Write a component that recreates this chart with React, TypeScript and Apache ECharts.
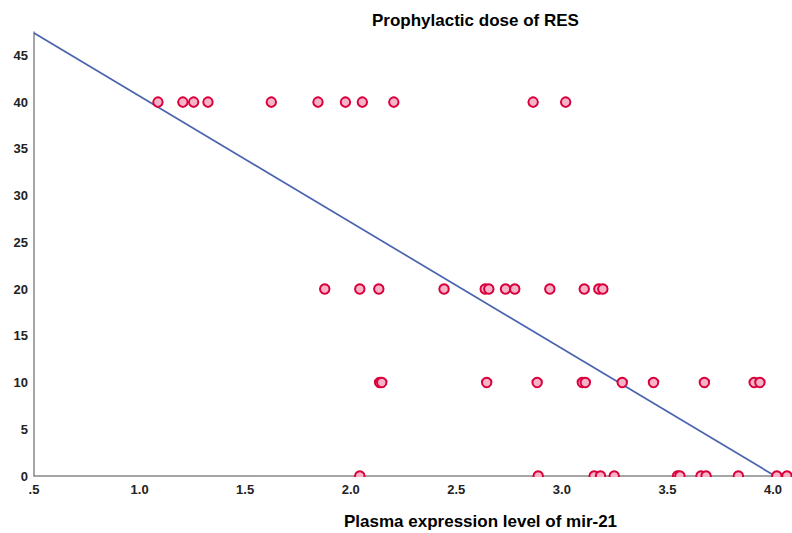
import React, { useEffect, useRef } from "react";
import * as echarts from "echarts";

const titleText = "Prophylactic dose of RES";
const xAxisTitle = "Plasma expression level of mir-21";

const dose40 = [1.087, 1.205, 1.256, 1.324, 1.624, 1.845, 1.975, 2.055, 2.204, 2.864, 3.018];
const dose20 = [1.877, 2.043, 2.133, 2.442, 2.637, 2.654, 2.733, 2.777, 2.943, 3.106, 3.175, 3.194];
const dose10 = [2.137, 2.147, 2.644, 2.883, 3.097, 3.111, 3.286, 3.434, 3.675, 3.911, 3.938];
const dose0 = [2.043, 2.888, 3.153, 3.183, 3.248, 3.548, 3.559, 3.659, 3.683, 3.836, 4.018, 4.066];

const fitLine: [number, number][] = [
  [0.5, 47.4],
  [4.01, 0],
];

const groups: [number, number[]][] = [
  [40, dose40],
  [20, dose20],
  [10, dose10],
  [0, dose0],
];

export default function App() {
  const ref = useRef<HTMLDivElement>(null);
  useEffect(() => {
    if (!ref.current) return;
    const chart = echarts.init(ref.current, null, { renderer: "svg" });
    const points: [number, number][] = [];
    groups.forEach(([y, xs]) => xs.forEach((x) => points.push([x, y])));
    const font = "'Liberation Sans', Arial, sans-serif";
    chart.setOption({
      animation: false,
      backgroundColor: "#ffffff",
      title: [
        {
          text: titleText,
          left: 367,
          top: 7,
          textStyle: { fontFamily: font, fontSize: 17, fontWeight: "bold", color: "#000" },
        },
        {
          text: xAxisTitle,
          left: 339,
          top: 508,
          textStyle: { fontFamily: font, fontSize: 17, fontWeight: "bold", color: "#000" },
        },
      ],
      grid: { left: 34, right: 0, top: 32, bottom: 57, containLabel: false },
      xAxis: {
        type: "value",
        min: 0.5,
        max: 4.09,
        interval: 0.5,
        axisLine: { show: true, lineStyle: { color: "#888", width: 1.5 } },
        axisTick: { show: false },
        splitLine: { show: false },
        axisLabel: {
          showMaxLabel: false,
          margin: 7,
          fontFamily: font,
          fontSize: 13,
          fontWeight: "bold",
          color: "#222",
          formatter: (v: number) => {
            const s = v.toFixed(1);
            return s.startsWith("0") ? s.slice(1) : s;
          },
        },
      },
      yAxis: {
        type: "value",
        min: 0,
        max: 47.5,
        interval: 5,
        axisLine: { show: true, lineStyle: { color: "#888", width: 1.5 } },
        axisTick: { show: false },
        splitLine: { show: false },
        axisLabel: {
          showMaxLabel: false,
          margin: 6,
          fontFamily: font,
          fontSize: 13,
          fontWeight: "bold",
          color: "#222",
        },
      },
      series: [
        {
          type: "line",
          data: fitLine,
          showSymbol: false,
          lineStyle: { color: "#4a63b0", width: 1.7 },
          z: 2,
        },
        {
          type: "scatter",
          data: points,
          symbol: "circle",
          symbolSize: 9.5,
          itemStyle: { color: "#f7b3c8", borderColor: "#d9003b", borderWidth: 2, opacity: 1 },
          z: 3,
        },
      ],
    });
    // mask below the x axis so points on y = 0 show only their upper half, as in the reference
    const origin = chart.convertToPixel({ gridIndex: 0 }, [0.5, 0]) as number[];
    chart.setOption({
      graphic: [
        {
          type: "rect",
          z: 100,
          shape: { x: origin[0] + 1, y: origin[1] + 1, width: 792 - origin[0], height: 6 },
          style: { fill: "#ffffff" },
        },
      ],
    });
    return () => chart.dispose();
  }, []);
  return (
    <div
      ref={ref}
      style={{ position: "fixed", left: 0, top: 0, width: 792, height: 533 }}
    />
  );
}
